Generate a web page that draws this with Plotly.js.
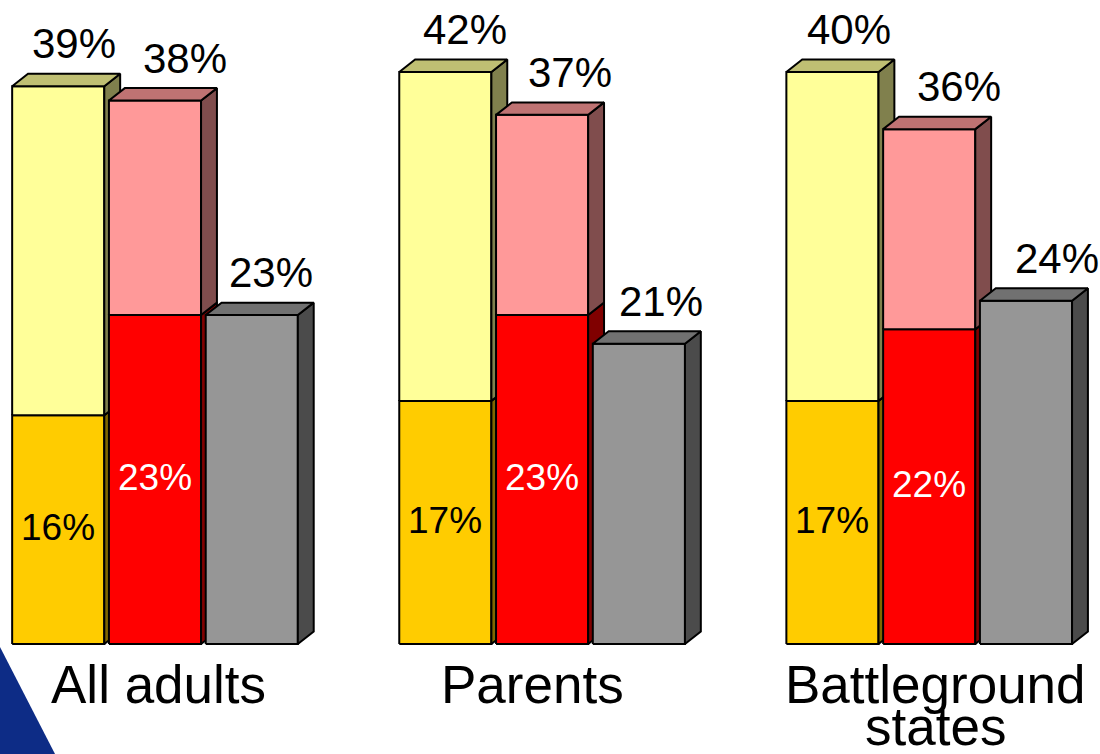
<!DOCTYPE html>
<html>
<head>
<meta charset="utf-8">
<script src="https://cdn.plot.ly/plotly-3.0.1.min.js"></script>
<style>
  html, body { margin: 0; padding: 0; background: #ffffff; }
  #chart { width: 1100px; height: 754px; }
</style>
</head>
<body>
<div id="chart"></div>
<script>
// ---- data ----
const groups = ['All adults', 'Parents', 'Battleground<br>states'];
const yellowLower = [16, 17, 17];      // gold segment
const yellowTotal = [39, 40, 40];      // height of the yellow stack as drawn
const yellowTotalLabels = ['39%', '42%', '40%'];
const redLower = [23, 23, 22];         // red segment
const redTotal = [38, 37, 36];         // height of the pink/red stack
const greyValues = [23, 21, 24];

// ---- styling ----
const FONT = 'Liberation Sans, Arial, sans-serif';
const W = 0.238, PITCH = 0.25, DX = 0.041, DY = 0.87;
const LINE = { color: '#000000', width: 2 };
const CAT_SHIFT = [3, -10, 6];          // px nudges of category labels
const OUTER_SHIFT = [[16, 20, 17], [30, 28, 30], [19, 22, 31]]; // px nudges of value labels

const series = [
  { // yellow stack
    segs: [
      { base: groups.map(() => 0), top: yellowLower, front: '#FFCC00', side: '#806600', top3d: '#BF9900' },
      { base: yellowLower, top: yellowTotal, front: '#FFFF99', side: '#80804D', top3d: '#BFBF73' }
    ],
    inner: { values: yellowLower, color: '#000000' },
    outer: { values: yellowTotal, labels: yellowTotalLabels }
  },
  { // red / pink stack
    segs: [
      { base: groups.map(() => 0), top: redLower, front: '#FF0000', side: '#800000', top3d: '#BF0000' },
      { base: redLower, top: redTotal, front: '#FF9999', side: '#804D4D', top3d: '#BF7373' }
    ],
    inner: { values: redLower, color: '#FFFFFF' },
    outer: { values: redTotal, labels: redTotal.map(v => v + '%') }
  },
  { // grey
    segs: [
      { base: groups.map(() => 0), top: greyValues, front: '#969696', side: '#4B4B4B', top3d: '#717171' }
    ],
    inner: null,
    outer: { values: greyValues, labels: greyValues.map(v => v + '%') }
  }
];

function poly(pts, acc) {
  pts.forEach(p => { acc.x.push(p[0]); acc.y.push(p[1]); });
  acc.x.push(pts[0][0]); acc.y.push(pts[0][1]);
  acc.x.push(null); acc.y.push(null);
}
function faceTrace(acc, color) {
  return {
    type: 'scatter', mode: 'lines', x: acc.x, y: acc.y,
    fill: 'toself', fillcolor: color, line: LINE,
    hoverinfo: 'skip', showlegend: false
  };
}

const traces = [];
const annotations = [];

series.forEach((s, k) => {
  const centers = groups.map((_, g) => g + (k - 1) * PITCH);
  // front faces
  s.segs.forEach(seg => {
    const acc = { x: [], y: [] };
    centers.forEach((xc, g) => {
      const x0 = xc - W / 2, x1 = xc + W / 2, b = seg.base[g], t = seg.top[g];
      poly([[x0, b], [x1, b], [x1, t], [x0, t]], acc);
    });
    traces.push(faceTrace(acc, seg.front));
  });
  // side faces
  s.segs.forEach(seg => {
    const acc = { x: [], y: [] };
    centers.forEach((xc, g) => {
      const x1 = xc + W / 2, b = seg.base[g], t = seg.top[g];
      poly([[x1, b], [x1 + DX, b + DY], [x1 + DX, t + DY], [x1, t]], acc);
    });
    traces.push(faceTrace(acc, seg.side));
  });
  // top face of the upper segment
  const topSeg = s.segs[s.segs.length - 1];
  const acc = { x: [], y: [] };
  centers.forEach((xc, g) => {
    const x0 = xc - W / 2, x1 = xc + W / 2, t = topSeg.top[g];
    poly([[x0, t], [x0 + DX, t + DY], [x1 + DX, t + DY], [x1, t]], acc);
  });
  traces.push(faceTrace(acc, topSeg.top3d));

  // labels above bars
  centers.forEach((xc, g) => {
    annotations.push({
      x: xc, y: s.outer.values[g], xref: 'x', yref: 'y',
      text: s.outer.labels[g], showarrow: false,
      xanchor: 'center', yanchor: 'bottom', xshift: OUTER_SHIFT[k][g], yshift: 17,
      font: { family: FONT, size: 42, color: '#000000' }
    });
  });
  // labels inside lower segments
  if (s.inner) {
    centers.forEach((xc, g) => {
      annotations.push({
        x: xc, y: s.inner.values[g] / 2, xref: 'x', yref: 'y',
        text: s.inner.values[g] + '%', showarrow: false,
        xanchor: 'center', yanchor: 'middle', yshift: 2,
        font: { family: FONT, size: 37, color: s.inner.color }
      });
    });
  }
});

// category labels (each line placed separately for tight line spacing)
groups.forEach((name, g) => {
  name.split('<br>').forEach((line, i) => {
    annotations.push({
      x: g, y: 0, xref: 'x', yref: 'y',
      text: line, showarrow: false,
      xanchor: 'center', yanchor: 'top', xshift: CAT_SHIFT[g], yshift: -9 - i * 42,
      font: { family: FONT, size: 53, color: '#000000' }
    });
  });
});

const layout = {
  width: 1100, height: 754,
  margin: { l: 0, r: 0, t: 0, b: 0, pad: 0 },
  paper_bgcolor: '#ffffff', plot_bgcolor: '#ffffff',
  showlegend: false,
  xaxis: { range: [-0.4004, 2.4412], visible: false, fixedrange: true },
  yaxis: { range: [-7.69, 45.03], visible: false, fixedrange: true },
  annotations: annotations,
  shapes: [{
    type: 'path', xref: 'paper', yref: 'paper', layer: 'below',
    path: 'M 0 0.142 L 0.05 0 L 0 0 Z',
    fillcolor: '#0D2C86', line: { width: 0 }
  }]
};

Plotly.newPlot('chart', traces, layout, { displayModeBar: false, staticPlot: true });
</script>
</body>
</html>
